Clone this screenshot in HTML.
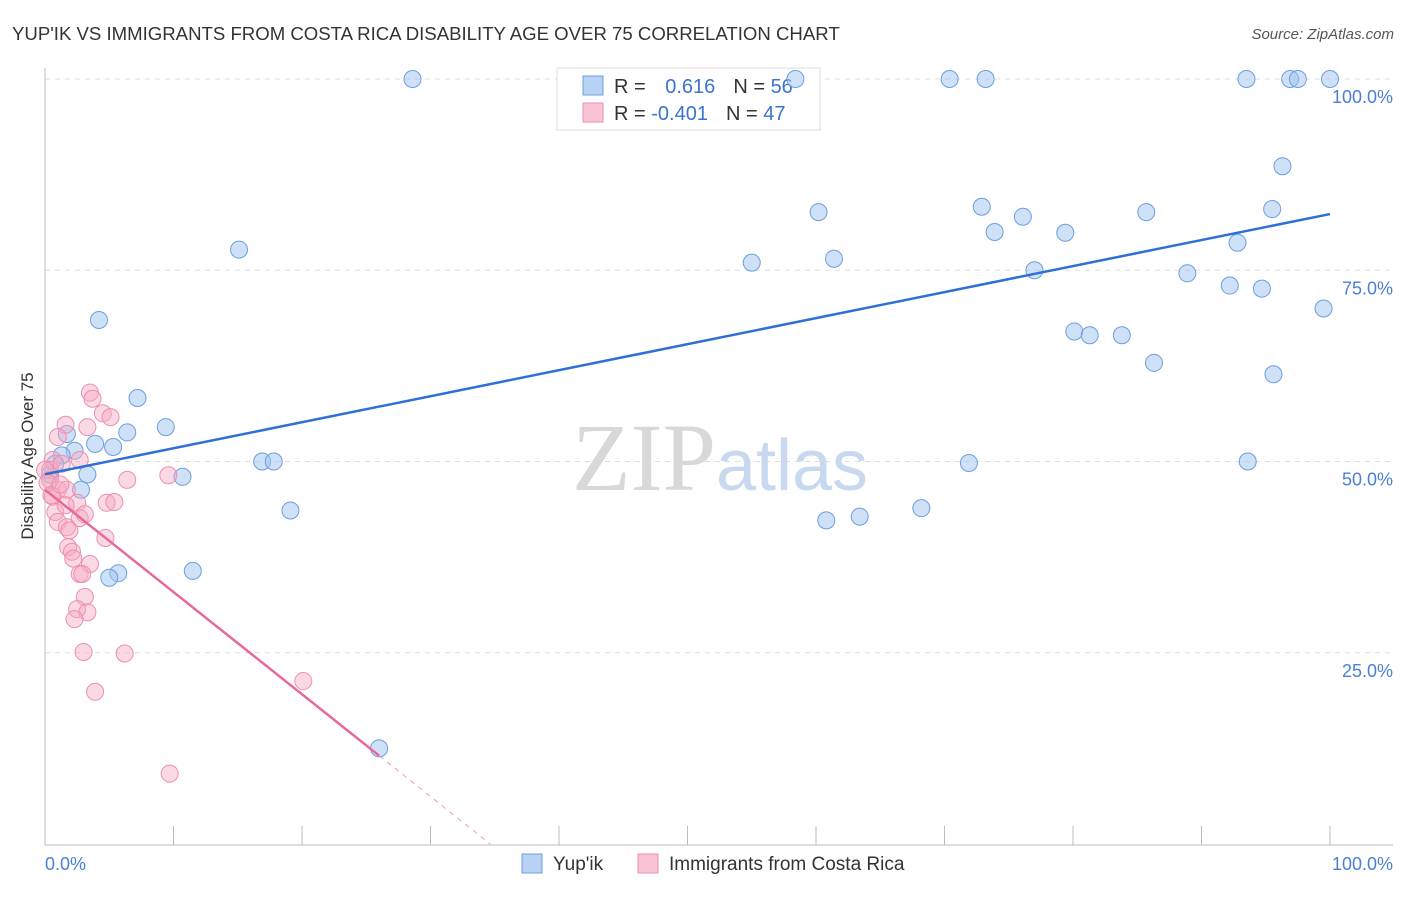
<!DOCTYPE html>
<html><head><meta charset="utf-8"><style>
body{margin:0;background:#fff;font-family:"Liberation Sans",sans-serif}
</style></head><body>
<svg width="1406" height="892" xmlns="http://www.w3.org/2000/svg" font-family="Liberation Sans, sans-serif">
<text x="12" y="40" font-size="18.6" fill="#333">YUP'IK VS IMMIGRANTS FROM COSTA RICA DISABILITY AGE OVER 75 CORRELATION CHART</text>
<text x="1394" y="39" font-size="15" fill="#555" text-anchor="end" font-style="italic">Source: ZipAtlas.com</text>
<g id="grid"></g>
<text x="720" y="490" font-size="96" text-anchor="middle" fill="#d8d8d8" font-family="Liberation Serif, serif">ZIP<tspan fill="#c8d8ee" font-family="Liberation Sans, sans-serif" font-size="72">atlas</tspan></text>
<g>
<rect x="557" y="68" width="263" height="62" fill="#fff" stroke="#ddd"/>
<rect x="583" y="76" width="20" height="19" fill="#b8d2f4" stroke="#6c9ee0"/>
<rect x="583" y="103" width="20" height="19" fill="#f9c4d4" stroke="#ec8fae"/>
<text x="614" y="93" font-size="20" fill="#333">R = <tspan fill="#3b73d1" dx="14">0.616</tspan><tspan dx="18" fill="#333">N = </tspan><tspan fill="#3b73d1">56</tspan></text>
<text x="614" y="120" font-size="20" fill="#333">R = <tspan fill="#3b73d1">-0.401</tspan><tspan dx="18" fill="#333">N = </tspan><tspan fill="#3b73d1">47</tspan></text>
</g>
<g id="marks"></g>
<text transform="translate(33,456) rotate(-90)" font-size="17" fill="#333" text-anchor="middle">Disability Age Over 75</text>
<text x="45" y="870" font-size="18" fill="#4a7fd4">0.0%</text>
<text x="1393" y="870" font-size="18" fill="#4a7fd4" text-anchor="end">100.0%</text>
<g>
<rect x="522" y="854" width="20" height="19" fill="#b8d2f4" stroke="#6c9ee0"/>
<text x="553" y="870" font-size="19" fill="#333">Yup'ik</text>
<rect x="638" y="854" width="20" height="19" fill="#f9c4d4" stroke="#ec8fae"/>
<text x="669" y="870" font-size="19" fill="#333">Immigrants from Costa Rica</text>
</g>
</svg>
<script>
const yTicks=[25,50,75,100];
const yTickLabels=["25.0%","50.0%","75.0%","100.0%"];
const xTicks=[0,10,20,30,40,50,60,70,80,90,100];
const blueX=[28.6,58.4,70.4,73.2,93.5,96.9,97.5,100,96.3,60.2,72.9,76.1,73.9,79.4,85.7,95.5,92.8,15.1,55,61.4,77,88.9,92.2,94.7,99.5,4.2,80.1,81.3,83.8,86.3,95.6,7.2,9.4,1.7,6.4,3.9,5.3,2.3,1.3,3.3,10.7,16.9,17.8,71.9,93.6,2.8,19.1,60.8,63.4,68.2,11.5,5.7,5,26,0.4,0.8];
const blueY=[100,100,100,100,100,100,100,100,88.6,82.6,83.3,82,80,79.9,82.6,83,78.6,77.7,76,76.5,75,74.6,73,72.6,70,68.5,67,66.5,66.5,62.9,61.4,58.3,54.5,53.6,53.8,52.3,51.9,51.4,50.8,48.3,48,50,50,49.8,50,46.3,43.6,42.3,42.8,43.9,35.7,35.4,34.8,12.5,48.3,49.7];
const pinkX=[3.5,3.7,4.5,5.1,1.6,3.3,1,2.7,0.6,0.4,6.4,9.6,0.4,1,1.7,0.6,2.5,4.8,5.4,0.8,2.7,1,1.7,4.7,1.9,1.8,2.1,2.2,3.5,2.7,2.9,3.1,2.5,3.3,2.3,3,6.2,3.9,20.1,9.7,0,0.2,0.5,1.3,1.6,3.1,1.2];
const pinkY=[59,58.2,56.3,55.8,54.8,54.5,53.2,50.2,50.2,48.9,47.6,48.2,47.6,46.3,46.3,45.4,44.6,44.6,44.7,43.4,42.6,42.1,41.4,40,41,38.8,38.2,37.3,36.6,35.3,35.3,32.3,30.7,30.3,29.4,25.1,24.9,19.9,21.3,9.2,48.9,47.2,45.6,49.7,44.3,43.1,47];
const X0=45,X1=1330,Y0=844,Y100=79;
const sx=v=>X0+(X1-X0)*v/100, sy=v=>Y0-(Y0-Y100)*v/100;
const NS="http://www.w3.org/2000/svg";
function mk(t,a,p){const e=document.createElementNS(NS,t);for(const k in a)e.setAttribute(k,a[k]);p.appendChild(e);return e;}
const grid=document.getElementById('grid'),marks=document.getElementById('marks');
yTicks.forEach((t,i)=>{
 const l=mk('line',{x1:45,x2:1393,y1:sy(t),y2:sy(t),stroke:'#ddd','stroke-dasharray':'5,5'},grid);
 
 
 const tx=mk('text',{x:1393,y:sy(t)+24,'font-size':18,fill:'#4a7fd4','text-anchor':'end'},grid);
 tx.textContent=yTickLabels[i];
 
 
});
const ax=mk('path',{d:`M45,68V845H1393`,stroke:'#bbb',fill:'none'},grid);


xTicks.forEach(t=>{
 const l=mk('line',{x1:sx(t),x2:sx(t),y1:826,y2:845,stroke:'#bbb'},grid);
 
 
});
function fit(xs,ys){const n=xs.length;let mx=0,my=0;xs.forEach((x,i)=>{mx+=x;my+=ys[i]});mx/=n;my/=n;let a=0,b=0;xs.forEach((x,i)=>{a+=(x-mx)*(ys[i]-my);b+=(x-mx)**2});const s=a/b;return[s,my-s*mx];}
blueX.forEach((x,i)=>{const c=mk('circle',{cx:sx(x),cy:sy(blueY[i]),r:8.5,fill:'rgba(160,196,240,0.5)',stroke:'#6c9ee0','stroke-width':1},marks);
 
 });
pinkX.forEach((x,i)=>{const c=mk('circle',{cx:sx(x),cy:sy(pinkY[i]),r:8.5,fill:'rgba(246,170,196,0.45)',stroke:'#ec8fae','stroke-width':1},marks);
 
 });
let [bs,bi]=fit(blueX,blueY);
const bl=mk('line',{x1:sx(0),y1:sy(bi),x2:sx(100),y2:sy(bi+100*bs),stroke:'#2f6fd6','stroke-width':2.5},marks);


let [ps,pi]=fit(pinkX,pinkY);
const xe=26, xz=-pi/ps;
const pl=mk('line',{x1:sx(0),y1:sy(pi),x2:sx(xe),y2:sy(pi+xe*ps),stroke:'#e8689a','stroke-width':2.5},marks);


const pd=mk('line',{x1:sx(xe),y1:sy(pi+xe*ps),x2:sx(xz),y2:sy(0),stroke:'#e8a0b8','stroke-width':1,'stroke-dasharray':'5,5'},marks);


</script>
</body></html>
